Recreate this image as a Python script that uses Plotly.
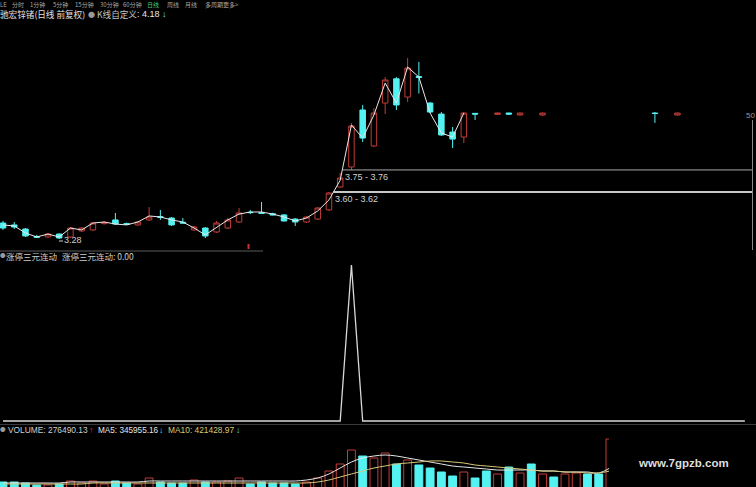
import plotly.graph_objects as go

W, H = 756, 487

# ---------------- data ----------------
# daily candles (index = trading day position); None = not drawn
opens  = [3.389, 3.376, 3.348, 3.296, 3.294, 3.314, 3.294, 3.335, 3.342, 3.385,
          3.410, 3.385, 3.376, 3.410, 3.432, 3.423, 3.394, 3.342, 3.355, 3.328,
          3.355, 3.396, 3.462, 3.459, 3.452, 3.444, 3.416, 3.396, 3.416, 3.478,
          3.634, 3.770, 4.158, 3.913, 4.205, 4.370, 4.246, 4.385, 4.205, 4.130,
          4.008, 3.974, 4.135, None, 4.128, 4.137, 4.124, None, 4.124, None,
          None, None, None, None, None, None, None, None, 4.137, None, 4.124]
highs  = [3.403, 3.396, 3.355, 3.308, 3.321, 3.318, 3.362, 3.362, 3.396, 3.403,
          3.457, 3.392, 3.403, 3.498, 3.478, 3.430, 3.423, 3.369, 3.362, 3.403,
          3.423, 3.491, 3.478, 3.532, 3.459, 3.450, 3.423, 3.437, 3.498, 3.600,
          3.730, 4.070, 4.192, 4.171, 4.382, 4.382, 4.512, 4.485, 4.212, 4.144,
          4.042, 4.144, 4.137, None, 4.140, 4.140, 4.140, None, 4.140, None,
          None, None, None, None, None, None, None, None, 4.144, None, 4.140]
lows   = [3.342, 3.348, 3.294, 3.287, 3.287, 3.280, 3.287, 3.328, 3.335, 3.378,
          3.376, 3.376, 3.369, 3.403, 3.410, 3.369, 3.385, 3.335, 3.287, 3.321,
          3.348, 3.389, 3.450, 3.450, 3.441, 3.400, 3.369, 3.389, 3.410, 3.471,
          3.627, 3.750, 3.940, 3.906, 4.130, 4.158, 4.212, 4.270, 4.137, 3.981,
          3.899, 3.933, 4.090, None, 4.124, 4.124, 4.118, None, 4.118, None,
          None, None, None, None, None, None, None, None, 4.070, None, 4.118]
closes = [3.355, 3.362, 3.301, 3.292, 3.314, 3.287, 3.355, 3.355, 3.389, 3.392,
          3.382, 3.380, 3.396, 3.430, 3.428, 3.376, 3.389, 3.362, 3.301, 3.389,
          3.410, 3.457, 3.460, 3.455, 3.444, 3.403, 3.396, 3.430, 3.491, 3.593,
          3.695, 4.049, 3.967, 4.137, 4.362, 4.192, 4.443, 4.380, 4.144, 3.988,
          3.960, 4.137, 4.130, None, 4.137, 4.130, 4.137, None, 4.137, None,
          None, None, None, None, None, None, None, None, 4.134, None, 4.137]

# white price line drawn through the candles
price_line = [3.376, 3.369, 3.321, 3.294, 3.314, 3.294, 3.355, 3.342, 3.389, 3.396,
              3.382, 3.376, 3.396, 3.437, 3.430, 3.410, 3.396, 3.355, 3.308, 3.362,
              3.410, 3.450, 3.464, 3.464, 3.450, 3.430, 3.403, 3.423, 3.471, 3.546,
              3.680, 4.056, 3.967, 4.124, 4.341, 4.205, 4.450, 4.382, 4.137, 4.001,
              3.974, 4.137]

low_label = "3.28"
zone_upper = (3.75, "3.75 - 3.76")
zone_lower = (3.60, "3.60 - 3.62")

# indicator 涨停三元连动
indicator = [0, 0, 0, 0, 0, 0, 0, 0, 0, 0, 0, 0, 0, 0, 0, 0, 0, 0, 0, 0,
             0, 0, 0, 0, 0, 0, 0, 0, 0, 0, 0, 1, 0, 0, 0, 0, 0, 0, 0, 0,
             0, 0, 0, 0, 0, 0, 0, 0, 0, 0, 0, 0, 0, 0, 0, 0, 0, 0, 0, 0,
             0, 0, 0, 0, 0, 0, 0]

# volume
volume = [200000, 200000, 175000, 125000, 125000, 150000, 225000, 175000, 225000, 150000,
          225000, 175000, 150000, 300000, 200000, 175000, 175000, 250000, 200000, 200000,
          225000, 300000, 150000, 200000, 175000, 175000, 150000, 200000, 300000, 475000,
          650000, 1000000, 850000, 800000, 925000, 650000, 750000, 625000, 550000, 450000,
          350000, 450000, 300000, 475000, 400000, 575000, 425000, 650000, 400000, 325000,
          400000, 425000, 400000, 400000, 1275000]
vol_up = [0, 0, 0, 0, 1, 0, 1, 1, 1, 1, 0, 0, 1, 1, 0, 0, 0, 1, 0, 1,
          1, 1, 0, 0, 0, 0, 0, 1, 1, 1, 1, 1, 0, 1, 1, 0, 1, 0, 0, 0,
          0, 1, 0, 0, 1, 0, 1, 0, 1, 0, 1, 1, 0, 0, 1]
vol_ma5 = [175000, 175000, 175000, 175000, 175000, 175000, 200000, 200000, 200000, 200000,
           200000, 200000, 200000, 225000, 225000, 225000, 225000, 225000, 225000, 225000,
           225000, 225000, 225000, 225000, 225000, 225000, 225000, 250000, 300000, 400000,
           550000, 700000, 800000, 850000, 875000, 850000, 800000, 750000, 700000, 650000,
           600000, 575000, 550000, 525000, 500000, 500000, 500000, 500000, 475000, 475000,
           450000, 450000, 450000, 425000, 550000]
vol_ma10 = [150000, 150000, 150000, 150000, 150000, 150000, 150000, 150000, 175000, 175000,
            175000, 175000, 175000, 175000, 175000, 175000, 175000, 175000, 175000, 175000,
            175000, 175000, 175000, 175000, 175000, 175000, 175000, 175000, 200000, 250000,
            325000, 400000, 475000, 550000, 600000, 650000, 675000, 700000, 725000, 725000,
            700000, 675000, 625000, 600000, 575000, 550000, 525000, 500000, 475000, 475000,
            450000, 450000, 425000, 425000, 475000]

menu_items = ["LE", "分时", "1分钟", "5分钟", "15分钟", "30分钟", "60分钟",
              "日线", "周线", "月线", "多周期", "更多>"]
stock_title = "驰宏锌锗(日线 前复权)"
kline_name = "K线自定义"
kline_value = ": 4.18"
ind_name = "涨停三元连动"
ind_value = "涨停三元连动: 0.00"
vol_text = "VOLUME: 276490.13"
ma5_text = "MA5: 345955.16"
ma10_text = "MA10: 421428.97"
watermark = "www.7gpzb.com"

# ---------------- styles ----------------
RED = "#c03c38"
CYAN = "#55f2f2"
GREY = "#bdbdbd"
CJK = "Noto Sans CJK SC, Liberation Sans, sans-serif"
LAT = "Liberation Sans, Noto Sans CJK SC, sans-serif"


def px(x):
    return x / W


def py(y):
    return 1 - y / H


# pixel layout of the three panes
P_TOP, P_BOT = 20, 250
I_TOP, I_BOT = 262, 424
V_TOP, V_BOT = 435, 487

# price scale: 3.60 at y=192, 147 px per 1.00
def price_at(y):
    return 3.60 + (192 - y) / 147.0

# indicator: 0 at y=421, 1 at y=265
def ind_at(y):
    return (421 - y) / 156.0

# volume: 25000 per px, 0 at y=490
def vol_at(y):
    return (490 - y) * 25000.0

X0 = 3.0
DX = 11.24
x_range = [(0 - X0) / DX, (W - X0) / DX]

fig = go.Figure()

ci = [i for i, o in enumerate(opens) if o is not None]
fig.add_trace(go.Candlestick(
    x=ci,
    open=[opens[i] for i in ci], high=[highs[i] for i in ci],
    low=[lows[i] for i in ci], close=[closes[i] for i in ci],
    increasing=dict(line=dict(color=RED, width=1), fillcolor="#000000"),
    decreasing=dict(line=dict(color=CYAN, width=1), fillcolor=CYAN),
    whiskerwidth=0, hoverinfo="skip", xaxis="x", yaxis="y", showlegend=False))

fig.add_trace(go.Scatter(
    x=list(range(len(price_line))), y=price_line, mode="lines",
    line=dict(color="#e8e8e8", width=1), hoverinfo="skip", showlegend=False,
    xaxis="x", yaxis="y"))

fig.add_trace(go.Scatter(
    x=list(range(len(indicator))), y=indicator, mode="lines",
    line=dict(color="#d8d8d8", width=1.3), hoverinfo="skip", showlegend=False,
    xaxis="x", yaxis="y2"))

vx = list(range(len(volume)))
fig.add_trace(go.Bar(
    x=vx, y=volume, width=0.7,
    marker=dict(color=["#000000" if u else CYAN for u in vol_up],
                line=dict(color=[RED if u else CYAN for u in vol_up], width=1)),
    hoverinfo="skip", showlegend=False, xaxis="x", yaxis="y3"))
fig.add_trace(go.Scatter(
    x=vx, y=vol_ma5, mode="lines", line=dict(color="#e6e6e6", width=1),
    line_shape="spline", hoverinfo="skip", showlegend=False, xaxis="x", yaxis="y3"))
fig.add_trace(go.Scatter(
    x=vx, y=vol_ma10, mode="lines", line=dict(color="#d6c878", width=1),
    line_shape="spline", hoverinfo="skip", showlegend=False, xaxis="x", yaxis="y3"))

shapes = []
# zone lines
shapes.append(dict(type="line", xref="paper", yref="y", x0=px(343), x1=px(752),
                   y0=zone_upper[0], y1=zone_upper[0], line=dict(color="#a8a8a8", width=1)))
shapes.append(dict(type="line", xref="paper", yref="y", x0=px(333), x1=px(752),
                   y0=zone_lower[0], y1=zone_lower[0], line=dict(color="#c8c8c8", width=2)))
# right edge line
shapes.append(dict(type="line", xref="paper", yref="paper", x0=px(752.5), x1=px(752.5),
                   y0=py(120), y1=py(250), line=dict(color="#8a8a8a", width=1)))
# bottom line of price pane
shapes.append(dict(type="line", xref="paper", yref="paper", x0=0, x1=px(263),
                   y0=py(251), y1=py(251), line=dict(color="#5a5a5a", width=1)))
# small red signal mark
shapes.append(dict(type="line", xref="paper", yref="paper", x0=px(248.5), x1=px(248.5),
                   y0=py(244), y1=py(249), line=dict(color="#d03030", width=2)))
# pane separator under indicator
shapes.append(dict(type="line", xref="paper", yref="paper", x0=0, x1=1,
                   y0=py(424.5), y1=py(424.5), line=dict(color="#3a3a3a", width=1)))
# watermark backing box
shapes.append(dict(type="rect", xref="paper", yref="paper", x0=px(609), x1=1,
                   y0=0, y1=py(436), fillcolor="#000000", line=dict(width=0), layer="above"))
# leader tick for low label
shapes.append(dict(type="line", xref="paper", yref="paper", x0=px(59), x1=px(63),
                   y0=py(241), y1=py(241), line=dict(color="#cfcfcf", width=1)))

ann = []


def txt(s, x, y, color=GREY, size=9, family=CJK, bold=False, anchor="left"):
    if bold:
        s = "<b>" + s + "</b>"
    ann.append(dict(xref="paper", yref="paper", x=px(x), y=py(y), xanchor=anchor,
                    yanchor="middle", text=s, showarrow=False, borderpad=0,
                    font=dict(color=color, size=size, family=family)))


menu_x = [0, 12, 30, 53, 75, 100, 123, 147, 167, 185, 205, 223]
for label, mx in zip(menu_items, menu_x):
    txt(label, mx - 1, 4, color="#3fd08a" if label == "日线" else "#a8a8a8", size=6)

txt(stock_title, -1, 14, color="#e2e2e2", size=8.6)
txt("●", 91, 14, color="#9a9a9a", size=7, anchor="center")
txt(kline_name, 96, 14, color="#c4c4c4", size=8.6)
txt(kline_value, 136, 14, color="#e8e8e8", size=9, family=LAT)
txt("↓", 161, 14, color=CYAN, size=9, family=LAT)

txt(zone_upper[1], 344, 177, color="#cfcfcf", size=9, family=LAT)
txt(zone_lower[1], 334, 199, color="#cfcfcf", size=9, family=LAT)
txt(low_label, 63, 240, color="#cfcfcf", size=9, family=LAT)
txt("50", 745, 115, color="#9a9a9a", size=8, family=LAT)

txt("●", 2.5, 256, color="#9a9a9a", size=5.5, anchor="center")
txt(ind_name, 5, 256, color="#cfcfcf", size=8.5)
txt(ind_value, 61, 256, color="#cfcfcf", size=8.5)

txt("●", 2.5, 430, color="#9a9a9a", size=5.5, anchor="center")
txt(vol_text, 7, 430, color="#cfcfcf", size=8.4, family=LAT)
txt("↑", 88, 430, color="#e03030", size=8.4, family=LAT)
txt(ma5_text, 97, 430, color="#e6e6e6", size=8.2, family=LAT)
txt("↓", 158, 430, color=CYAN, size=8.2, family=LAT)
txt(ma10_text, 167, 430, color="#d8c870", size=8.4, family=LAT)
txt("↓", 235, 430, color=CYAN, size=8.4, family=LAT)

txt(watermark, 637, 463, color="#dedede", size=11.5, family=LAT, bold=True)

hidden = dict(showgrid=False, zeroline=False, showticklabels=False, showline=False,
              ticks="", fixedrange=True)

fig.update_layout(
    width=W, height=H, margin=dict(l=0, r=0, t=0, b=0),
    paper_bgcolor="#000000", plot_bgcolor="#000000",
    showlegend=False, boxgap=0.3, bargap=0.3,
    xaxis=dict(range=x_range, rangeslider=dict(visible=False), domain=[0, 1], **hidden),
    yaxis=dict(domain=[py(P_BOT), py(P_TOP)], range=[price_at(P_BOT), price_at(P_TOP)], **hidden),
    yaxis2=dict(domain=[py(I_BOT), py(I_TOP)], range=[ind_at(I_BOT), ind_at(I_TOP)], **hidden),
    yaxis3=dict(domain=[py(V_BOT), py(V_TOP)], range=[vol_at(V_BOT), vol_at(V_TOP)], **hidden),
    shapes=shapes, annotations=ann,
)

fig.write_html("out.html", config={"displayModeBar": False},
               post_script="document.body.style.margin='0px';document.body.style.background='#000';")
